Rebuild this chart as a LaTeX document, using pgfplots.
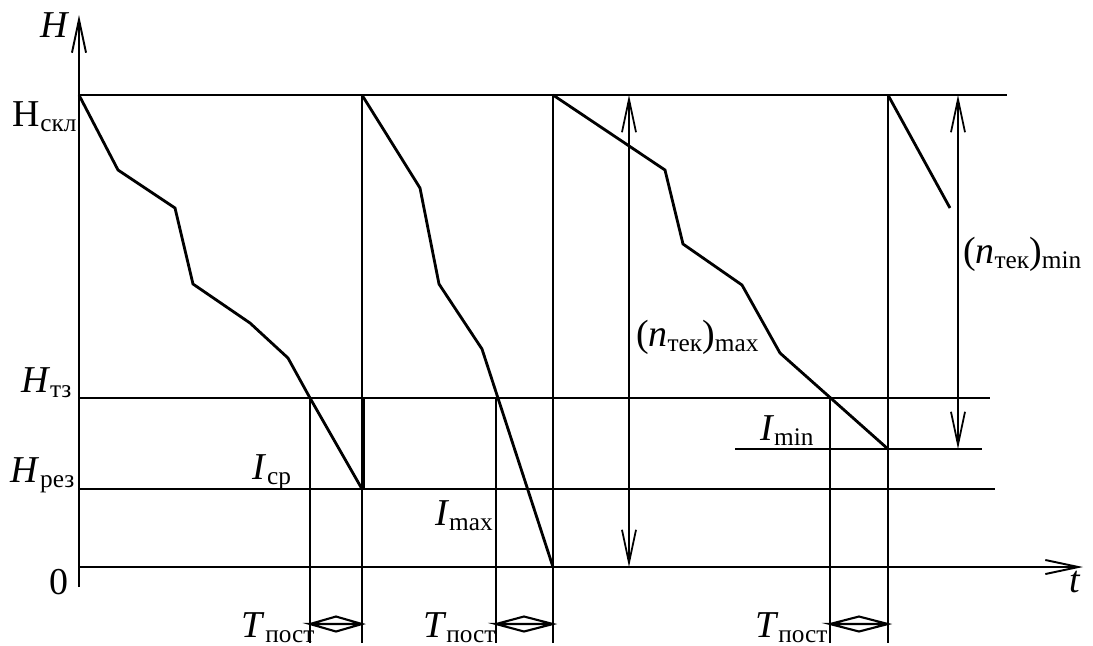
\documentclass[border=0pt]{standalone}
\usepackage{fontspec}
\setmainfont{Liberation Serif}
\usepackage{pgfplots}
\pgfplotsset{compat=1.18}
\usetikzlibrary{arrows.meta}
\newcommand\sub[1]{\raisebox{-0.3ex}{\fontsize{7.2}{8}\selectfont #1}}
\begin{document}
\fontsize{10.8}{13}\selectfont
\begin{tikzpicture}[
  barbs/.style={line width=0.5pt,{Straight Barb[length=9.4pt,width=4pt,line width=0.5pt]}-{Straight Barb[length=9.4pt,width=4pt,line width=0.5pt]}},
  barb/.style={line width=0.55pt,-{Straight Barb[length=9.4pt,width=4pt,line width=0.55pt]}},
  lab/.style={anchor=base west,inner sep=0pt,outer sep=0pt}
]
\begin{axis}[name=ax, scale only axis, width=109.3mm, height=64.5mm,
  xmin=0, xmax=1093, ymin=0, ymax=645, y dir=reverse, hide axis, clip=false]
% axes
\addplot[barb] coordinates {(79,587) (79,15)};
\addplot[barb] coordinates {(79,567) (1083,567)};
% levels
\addplot[line width=0.6pt] coordinates {(79,95) (1007,95)};
\addplot[line width=0.6pt] coordinates {(79,398) (990,398)};
\addplot[line width=0.6pt] coordinates {(79,489) (995,489)};
\addplot[line width=0.6pt] coordinates {(735,449) (982,449)};
% stock curves
\addplot[line width=0.8pt] coordinates {(79,95) (118,170) (175,208) (193,284) (250,323) (288,358) (310,398) (362,489)};
\addplot[line width=0.8pt] coordinates {(362,95) (420,188) (439,284) (482,349) (553,567)};
\addplot[line width=0.8pt] coordinates {(553,95) (665,170) (683,244) (742,285) (780,353) (888,449)};
\addplot[line width=0.8pt] coordinates {(888,95) (950,208)};
% replenishment verticals
\addplot[line width=0.8pt] coordinates {(362,95) (362,489)};
\addplot[line width=0.8pt] coordinates {(363.5,398) (363.5,489)};
\addplot[line width=0.55pt] coordinates {(362,489) (362,643)};
\addplot[line width=0.8pt] coordinates {(553,95) (553,567)};
\addplot[line width=0.55pt] coordinates {(553,567) (553,643)};
\addplot[line width=0.8pt] coordinates {(888,95) (888,449)};
\addplot[line width=0.55pt] coordinates {(888,449) (888,643)};
% order points
\addplot[line width=0.55pt] coordinates {(310,398) (310,643)};
\addplot[line width=0.55pt] coordinates {(496,398) (496,643)};
\addplot[line width=0.55pt] coordinates {(830,398) (830,643)};
% dimension arrows
\addplot[barbs] coordinates {(629,95) (629,567)};
\addplot[barbs] coordinates {(958,95) (958,449)};
\addplot[line width=0.6pt] coordinates {(310,624) (336,616.5) (362,624) (336,631.5) (310,624) (362,624)};
\addplot[line width=0.6pt] coordinates {(496,624) (524,616.5) (553,624) (524,631.5) (496,624) (553,624)};
\addplot[line width=0.6pt] coordinates {(830,624) (859,616.5) (888,624) (859,631.5) (830,624) (888,624)};
% labels
\node[lab] at (axis cs:41,37) {\textit{H}};
\node[lab] at (axis cs:13,126) {Н\sub{скл}};
\node[lab] at (axis cs:21,392) {\textit{H}\sub{тз}};
\node[lab] at (axis cs:11,482) {\textit{H}\sub{рез}};
\node[lab] at (axis cs:50,594) {0};
\node[lab] at (axis cs:253,479) {\textit{I}\sub{ср}};
\node[lab] at (axis cs:435,525) {\textit{I}\sub{max}};
\node[lab] at (axis cs:760,440) {\textit{I}\sub{min}};
\node[lab] at (axis cs:242,637) {\textit{T}\sub{пост}};
\node[lab] at (axis cs:423,637) {\textit{T}\sub{пост}};
\node[lab] at (axis cs:755,637) {\textit{T}\sub{пост}};
\node[lab] at (axis cs:1069,592) {\textit{t}};
\node[lab] at (axis cs:636,346) {(\textit{n}\sub{тек})\sub{max}};
\node[lab] at (axis cs:963,263) {(\textit{n}\sub{тек})\sub{min}};
\end{axis}
\pgfresetboundingbox
\path[use as bounding box] (ax.south west) rectangle (ax.north east);
\end{tikzpicture}
\end{document}
